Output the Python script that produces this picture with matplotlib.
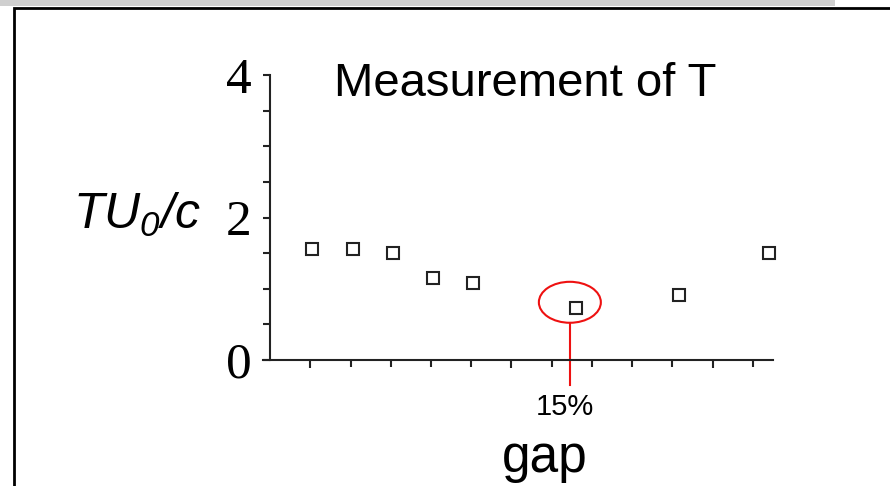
import matplotlib.pyplot as plt
from matplotlib.patches import Ellipse, Rectangle

plt.rcParams['mathtext.fontset'] = 'custom'
plt.rcParams['mathtext.it'] = 'Liberation Sans:italic'
plt.rcParams['mathtext.rm'] = 'Liberation Sans:italic'

# measured points
gap_x = [1.05, 2.05, 3.05, 4.05, 5.05, 7.6, 10.15, 12.4]
tu_c = [1.56, 1.56, 1.50, 1.15, 1.08, 0.73, 0.91, 1.50]
y_ticks = [0, 2, 4]
marked_x = 7.45      # circled point
marked_label = '15%'

W, H = 890, 486
fig = plt.figure(figsize=(W / 100, H / 100), dpi=100)

def fx(px):
    return px / W

def fy(py):
    return 1 - py / H

# slide frame and shadow strip at top
fig.patches.append(Rectangle((0, fy(6)), fx(835), 6 / H, transform=fig.transFigure,
                             facecolor='#cfcfcf', edgecolor='none', zorder=0))
fig.patches.append(Rectangle((fx(14), -0.05), 1.1, fy(8) + 0.05, transform=fig.transFigure,
                             facecolor='white', edgecolor='black', linewidth=2, zorder=1))

ax = fig.add_axes([fx(263), fy(360), fx(773) - fx(263), fy(75) - fy(360)])
ax.set_zorder(3)
ax.set_facecolor('none')
ax.plot(gap_x, tu_c, linestyle='none', marker='s', markersize=8, markerfacecolor='white',
        markeredgecolor='#222222', markeredgewidth=1.5, clip_on=False, zorder=3)

ax.set_xlim(-0.174, 12.497)
ax.set_ylim(0, 4)
ax.spines['top'].set_visible(False)
ax.spines['right'].set_visible(False)
ax.spines['left'].set_position(('data', 0))
for s in ('left', 'bottom'):
    ax.spines[s].set_linewidth(1.5)
    ax.spines[s].set_color('#222222')

ax.set_yticks(y_ticks)
ax.set_yticks([v * 0.5 for v in range(9)], minor=True)
ax.set_xticks([1, 6, 11])
ax.set_xticks(range(1, 13), minor=True)
ax.set_xticklabels([])
ax.tick_params(axis='y', which='both', direction='out', length=5, width=1.5, color='#222222')
ax.tick_params(axis='y', which='major', pad=8, labelsize=37)
ax.tick_params(axis='x', which='major', direction='out', length=6, width=1.5, color='#222222')
ax.tick_params(axis='x', which='minor', direction='out', length=5, width=1.5, color='#222222')
for lab in ax.get_yticklabels():
    lab.set_fontfamily('Liberation Serif')

# circled point with callout line
ax.add_patch(Ellipse((marked_x, 0.81), 1.54, 0.575, fill=False, edgecolor='#ee1111',
                     linewidth=1.5, clip_on=False))
ax.plot([marked_x, marked_x], [0.52, -0.35], color='#ee1111', linewidth=1.5, clip_on=False)

fig.text(fx(565), fy(415), marked_label, ha='center', va='baseline',
         fontsize=21, family='Liberation Sans', zorder=4)
fig.text(fx(545), fy(472), 'gap', ha='center', va='baseline',
         fontsize=37, family='Liberation Sans', zorder=4)
fig.text(fx(525), fy(96), 'Measurement of T', ha='center', va='baseline',
         fontsize=34, family='Liberation Sans', zorder=4)
fig.text(fx(137), fy(229), r'$TU_0/c$', ha='center', va='baseline', fontsize=36, zorder=4)

fig.savefig('out.png', dpi=100)
